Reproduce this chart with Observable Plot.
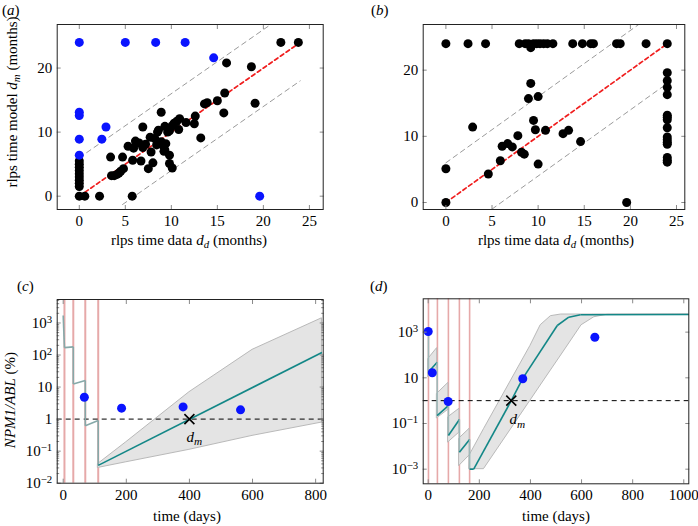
<!DOCTYPE html>
<html><head><meta charset="utf-8">
<script src="https://cdn.jsdelivr.net/npm/d3@7"></script>
<script src="https://cdn.jsdelivr.net/npm/@observablehq/plot@0.6"></script>
<style>
body{margin:0;background:#fff;}
#wrap{position:relative;width:698px;height:526px;font-family:"Liberation Serif","Times New Roman",serif;color:#000;overflow:hidden;background:#fff}
.pan{position:absolute}
.pan svg text{font-family:"Liberation Serif","Times New Roman",serif !important}
.lab{position:absolute;font-size:15px;white-space:nowrap;line-height:1}
.rot{transform:translate(-50%,-50%) rotate(-90deg)}
.ctr{transform:translateX(-50%)}
sub{font-size:0.72em;vertical-align:-0.3em;line-height:0}
</style></head><body><div id="wrap"></div><script>
// ---------- Panel (a): model vs data relapse times ----------
const aBlackX = [0,0.6,2.2,5.75, 0,0,0,0,0,0,0,0,0, 3.5,3.8,4.1,4.3,4.5,4.8, 3.4,4.7,
  5.3,5.9,6.1,6.5,6.9,5.8,6.7,7.2,7.8,7.5,8.0,
  6.9,7.7,8.2,8.5,8.6,8.9,8.9,9.1,9.3,9.2,9.6,9.3,9.6,9.8,10.1,10.3,10.6,10.9,10.8,9.8,9.8,10.1,9.4,8.4,
  11.6,12.5,12.6,13.2, 13.6,13.9,15.0,15.7,15.8,16.0,18.7,19.1,21.9,23.8];
const aBlackY = [0,0,0,0, 1.5,2.0,2.5,3.0,3.5,4.0,4.5,5.0,5.5, 3.2,3.2,3.4,3.6,3.9,4.3, 6.1,6.1,
  7.8,7.5,8.6,8.3,7.6,5.6,5.5,8.1,6.9,4.3,5.2,
  10.8,9.2,9.0,10.0,10.3,13.1,8.5,7.9,7.2,7.0,10.0,10.9,10.6,10.2,11.0,11.4,11.7,12.1,10.4,6.4,5.1,4.4,8.2,8.0,
  11.5,11.3,12.5,9.1, 14.4,14.6,14.9,13.0,16.1,20.8,20.2,14.5,24,24];
const aBlueX = [0,5,8.3,11.5,14.6,0,0,0,2.45,2.9,0,19.6];
const aBlueY = [24,24,24,24,21.6,13.1,12.6,8.9,8.9,10.8,6.4,0];
// ---------- Panel (b) ----------
const bX = [0,2.4,4.3,7.95,8.6,8.95,9.5,9.85,10.2,10.6,11.0,11.6,13.75,14.8,15.7,16.0,18.5,18.9,21.7,24,9.2,
  24,24,24,24,24,24,24,24,24,24,24,24,24,24,24,
  0,0,2.9,4.6,5.9,6.1,6.7,7.2,7.8,8.2,8.5,8.95,9.2,9.5,9.7,10.0,10.0,10.8,12.7,13.3,14.6,19.6];
const bY = [24,24,24,24,24,24,24,24,24,24,24,24,24,24,24,24,24,24,24,24,23.4,
  19.6,18.4,17.4,16.3,13.2,12.9,12.5,11.3,9.9,9.5,9.1,8.8,6.8,6.4,6.1,
  5.1,0,11.4,4.3,6.3,8.5,8.9,8.4,10.1,7.6,7.3,15.7,18.0,12.4,11.0,16.0,5.8,10.9,10.4,10.9,9.2,0];
// reference lines (identity and +/- 6 months)
const diagX = [0,24], diagY = [0,24];
const upperX = [0,21], upperY = [6,27];
const aLowerX = [4.7,24], aLowerY = [-1.3,18];
const bLowerX = [5,24], bLowerY = [-1,18];
const scTicksX = [0,5,10,15,20,25], scTicksY = [0,10,20];
// ---------- Panel (c) ----------
const cTreat = [4,32,70,111];
const cLineDay = [0,4,32,32,70,70,111,111,820];
const cLineVal = [1700,170,180,12.5,16,0.62,0.9,0.036,120];
const cBandDay = [111,200,400,600,820];
const cBandLo = [0.03,0.045,0.11,0.3,0.78];
const cBandHi = [0.04,0.19,6.9,145,1400];
const cObsDay = [67,185,380,562], cObsVal = [4.8,2.2,2.4,1.95];
const cDmDay = [400];
const cTicksY = [0.01,0.1,1,10,100,1000];
const cTickLab = ["10^−2","10^−1","1","10","10^2","10^3"];
const cTicksX = [0,200,400,600,800];
// ---------- Panel (d) ----------
const dTreat = [1,36,79,122,162];
const dLineDay = [0,1,1,35,35,79,79,122,122,162,162,178,325,370,505,550,596,1020];
const dLineVal = [1070,1070,18,48,0.22,0.6,0.03,0.15,0.0055,0.02,0.001,0.001,1,9.5,1950,4500,5800,5900];
const dBandSeg = [1,1,2,2,3,3,4,4,5,5,5,5,5,5,5,5,5,5];
const dBandDay = [1,35,35,79,79,122,122,162,162,218,400,440,480,520,600,650,700,1020];
const dBandLo = [11,29,0.17,0.4,0.015,0.04,0.0014,0.004,0.001,0.001,1,4.6,21,95,2000,4500,5750,5900];
const dBandHi = [68,200,2,6,0.19,0.44,0.022,0.059,0.004,0.056,250,2000,5000,5900,5900,5900,5900,5900];
const dObsDay = [0,16,78,370,652], dObsVal = [1070,16.6,0.92,9.1,600];
const dDmDay = [325];
const dTicksY = [0.001,0.1,10,1000];
const dTickLab = ["10^−3","10^−1","10","10^3"];
const dTicksX = [0,200,400,600,800,1000];
const threshold = [1];

const pts = (xs, ys) => xs.map((x, i) => ({x, y: ys[i]}));
const TEAL = "#138787", BLUE = "#0a14ff", TREAT = "#e6a9a9";
const FONT = "'Liberation Serif','Times New Roman',serif";
const style = {fontFamily: FONT, fontSize: "15px", background: "transparent", overflow: "visible"};
const intFmt = d3.format("d");

function frameAxes(xt, yt, opt = {}) {
  const tk = {stroke: "#8a8a8a", fill: "none", tickSize: -4};
  const m = [
    Plot.axisX({ticks: xt, ...tk, anchor: "bottom"}),
    Plot.axisX({ticks: xt, ...tk, anchor: "top"}),
    Plot.axisY({ticks: yt, ...tk, anchor: "left"}),
    Plot.axisY({ticks: yt, ...tk, anchor: "right"}),
    Plot.axisX({ticks: xt, anchor: "bottom", tickSize: 0, tickPadding: 6, label: null, tickFormat: intFmt, fontSize: 15}),
    Plot.axisY({ticks: yt, anchor: "left", tickSize: 0, tickPadding: 5, label: null, tickFormat: opt.yfmt || intFmt, fontSize: 15})
  ];
  if (opt.minor) {
    const mk = {ticks: opt.minor, stroke: "#8a8a8a", fill: "none", tickSize: -2.5};
    m.push(Plot.axisY({...mk, anchor: "left"}), Plot.axisY({...mk, anchor: "right"}));
  }
  m.push(Plot.frame({stroke: "#222", strokeWidth: 1}));
  return m;
}

function scatter(blackX, blackY, blueX, blueY, lowX, lowY, xd, yd, ml, mr) {
  return Plot.plot({
    width: 349, height: 263, marginLeft: ml, marginRight: mr, marginTop: 24, marginBottom: 54,
    x: {domain: xd}, y: {domain: yd}, style,
    marks: [
      Plot.line(pts(upperX, upperY), {x: "x", y: "y", stroke: "#9a9a9a", strokeDasharray: "5,4", strokeWidth: 1, clip: true}),
      Plot.line(pts(lowX, lowY), {x: "x", y: "y", stroke: "#9a9a9a", strokeDasharray: "5,4", strokeWidth: 1, clip: true}),
      Plot.line(pts(diagX, diagY), {x: "x", y: "y", stroke: "#f01e1e", strokeDasharray: "4,3", strokeWidth: 1.7}),
      Plot.dot(pts(blackX, blackY), {x: "x", y: "y", r: 4.5, fill: "#000"}),
      blueX ? Plot.dot(pts(blueX, blueY), {x: "x", y: "y", r: 4.5, fill: BLUE}) : null,
      ...frameAxes(scTicksX, scTicksY)
    ]
  });
}

function segLinks(days, vals, split) {
  const out = [];
  for (let i = 0; i < days.length - 1; i++) {
    out.push({x1: days[i], x2: days[i+1], y1: vals[i], y2: vals[i+1],
      kind: (days[i] === days[i+1] || days[i+1] <= split) ? "pre" : "post"});
  }
  return out;
}

function fixText(svg) {
  const ns = "http://www.w3.org/2000/svg";
  svg.setAttribute("font-family", FONT);
  svg.style.fontFamily = FONT;
  svg.querySelectorAll("text").forEach(t => {
    t.setAttribute("font-family", FONT);
    t.style.fontFamily = FONT;
    const s = t.textContent;
    if (s.includes("^")) {
      const [b, e] = s.split("^");
      t.textContent = "";
      const t1 = document.createElementNS(ns, "tspan"); t1.textContent = b;
      const t2 = document.createElementNS(ns, "tspan"); t2.textContent = e;
      t2.setAttribute("dy", "-0.45em"); t2.setAttribute("font-size", "0.72em");
      t.append(t1, t2);
    } else if (s.includes("_")) {
      const [b, e] = s.split("_");
      t.textContent = "";
      const t1 = document.createElementNS(ns, "tspan"); t1.textContent = b; t1.setAttribute("font-style", "italic");
      const t2 = document.createElementNS(ns, "tspan"); t2.textContent = e; t2.setAttribute("font-style", "italic");
      t2.setAttribute("dy", "0.3em"); t2.setAttribute("font-size", "0.75em");
      t.append(t1, t2);
    }
  });
}

const wrap = document.getElementById("wrap");
function place(svg, left, top) {
  const d = document.createElement("div"); d.className = "pan";
  d.style.left = left + "px"; d.style.top = top + "px";
  d.appendChild(svg); wrap.appendChild(d); fixText(svg);
}
function label(html, left, top, cls = "") {
  const d = document.createElement("div"); d.className = "lab " + cls;
  d.style.left = left + "px"; d.style.top = top + "px"; d.innerHTML = html; wrap.appendChild(d);
}

// (a) and (b)
place(scatter(aBlackX, aBlackY, aBlueX, aBlueY, aLowerX, aLowerY, [-2.4, 26.5], [-2.08, 26.8], 56.7, 26.3), 0, 0);
place(scatter(bX, bY, null, null, bLowerX, bLowerY, [-2.46, 25.9], [-1.06, 26.9], 73.7, 13.7), 349, 0);

// (c)
const cMinor = [];
for (let k = -2; k <= 3; k++) for (let j = 2; j <= 9; j++) { const v = j * 10 ** k; if (v < 5400) cMinor.push(+v.toPrecision(3)); }
const cPlot = Plot.plot({
  width: 349, height: 263, marginLeft: 56.7, marginRight: 26.3, marginTop: 36, marginBottom: 43.3,
  x: {domain: [-19, 824]}, y: {type: "log", domain: [0.01, 5400]}, style,
  marks: [
    Plot.ruleX(cTreat, {stroke: TREAT, strokeWidth: 2}),
    Plot.areaY(cBandDay.map((d, i) => ({d, lo: cBandLo[i], hi: cBandHi[i]})), {x: "d", y1: "lo", y2: "hi", fill: "#e4e4e4", stroke: "#b9b9b9", strokeWidth: 1}),
    Plot.ruleY(threshold, {stroke: "#000", strokeDasharray: "5,4", strokeWidth: 1}),
    Plot.link(segLinks(cLineDay, cLineVal, 111), {x1: "x1", x2: "x2", y1: "y1", y2: "y2",
      stroke: d => d.kind === "pre" ? "#86a9a9" : TEAL, strokeWidth: 1.6}),
    Plot.dot(pts(cObsDay, cObsVal), {x: "x", y: "y", r: 4.5, fill: BLUE}),
    Plot.dot(cDmDay.map(d => ({d, v: threshold[0]})), {x: "d", y: "v", symbol: "times", r: 4.6, stroke: "#000", strokeWidth: 1.6}),
    Plot.text(cDmDay.map(d => ({d, v: threshold[0]})), {x: "d", y: "v", text: () => "d_m", dx: 5, dy: 18, fontSize: 15}),
    ...frameAxes(cTicksX, cTicksY, {yfmt: d => cTickLab[cTicksY.indexOf(d)], minor: cMinor})
  ]
});
place(cPlot, 0, 263);

// (d)
const dPlot = Plot.plot({
  width: 349, height: 263, marginLeft: 73.7, marginRight: 9.7, marginTop: 35.3, marginBottom: 42.7,
  x: {domain: [-19.6, 1019.6]}, y: {type: "log", domain: [0.000229, 28800]}, style,
  marks: [
    Plot.ruleX(dTreat, {stroke: TREAT, strokeWidth: 1.6}),
    Plot.areaY(dBandDay.map((d, i) => ({d, lo: dBandLo[i], hi: dBandHi[i], s: dBandSeg[i]})), {x: "d", y1: "lo", y2: "hi", z: "s", fill: "#e4e4e4", stroke: "#b9b9b9", strokeWidth: 1}),
    Plot.ruleY(threshold, {stroke: "#000", strokeDasharray: "5,4", strokeWidth: 1}),
    Plot.link(segLinks(dLineDay, dLineVal, 0), {x1: "x1", x2: "x2", y1: "y1", y2: "y2",
      stroke: d => d.kind === "pre" ? "#9fb8b8" : TEAL, strokeWidth: 1.6}),
    Plot.dot(pts(dObsDay, dObsVal), {x: "x", y: "y", r: 4.5, fill: BLUE}),
    Plot.dot(dDmDay.map(d => ({d, v: threshold[0]})), {x: "d", y: "v", symbol: "times", r: 4.6, stroke: "#000", strokeWidth: 1.6}),
    Plot.text(dDmDay.map(d => ({d, v: threshold[0]})), {x: "d", y: "v", text: () => "d_m", dx: 6, dy: 19, fontSize: 15}),
    ...frameAxes(dTicksX, dTicksY, {yfmt: d => dTickLab[dTicksY.indexOf(d)]})
  ]
});
place(dPlot, 349, 263);

// text labels
label("(<i>a</i>)", 2, 3);
label("(<i>b</i>)", 371, 3);
label("(<i>c</i>)", 17, 279);
label("(<i>d</i>)", 370, 279);
label("rlps time model <i>d</i><sub><i>m</i></sub> (months)", 12, 102, "rot");
label("rlps time data <i>d</i><sub><i>d</i></sub> (months)", 189, 233, "ctr");
label("rlps time data <i>d</i><sub><i>d</i></sub> (months)", 556, 233, "ctr");
label("<i>NPM1/ABL</i> (%)", 10, 400, "rot");
label("time (days)", 187, 509, "ctr");
label("time (days)", 556, 509, "ctr");
</script></body></html>
